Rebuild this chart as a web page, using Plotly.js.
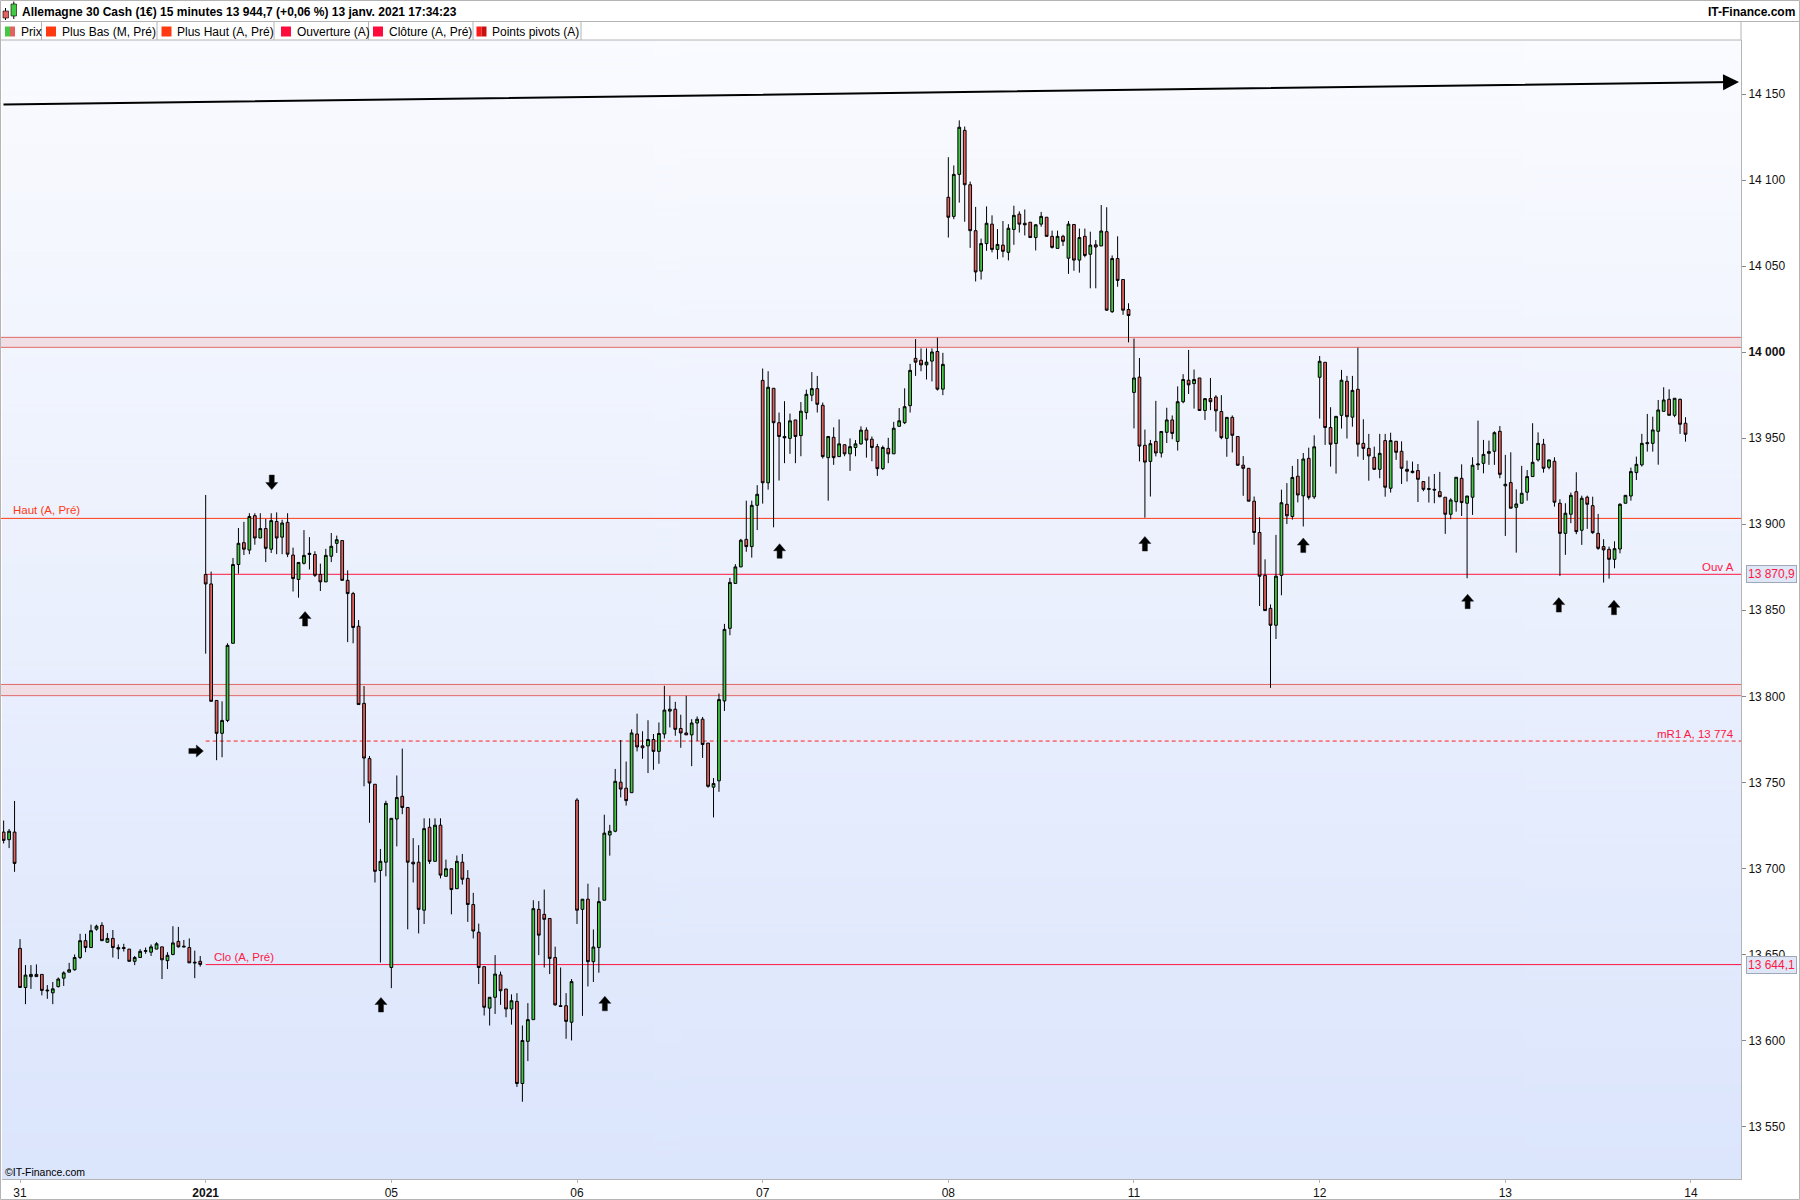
<!DOCTYPE html>
<html><head><meta charset="utf-8">
<script src="https://cdn.plot.ly/plotly-3.0.1.min.js"></script>
<style>html,body{margin:0;padding:0;background:#fff}#chart{width:1800px;height:1200px}</style>
</head><body><div id="chart"></div>
<script>
// ---------- DATA (15-minute candles: [open, high, low, close]) ----------
const dec30 = [
[13721.1,13727.8,13714.5,13716.3],[13716.7,13722.9,13711.8,13721.6],[13721.1,13739.2,13698.0,13702.9]];
const dec31 = [
[13653.5,13658.9,13630.8,13630.8],[13630.8,13643.8,13621.1,13638.0],[13637.1,13643.8,13630.0,13638.4],[13638.4,13644.2,13637.1,13637.1],
[13638.4,13638.4,13626.2,13629.1],[13629.3,13632.2,13624.2,13628.9],[13627.7,13634.0,13621.1,13630.0],[13631.3,13636.6,13630.8,13635.7],
[13636.2,13640.2,13631.7,13639.3],[13639.7,13645.1,13639.7,13641.1],[13641.1,13650.0,13640.6,13648.2],[13648.2,13662.0,13647.3,13658.0],
[13658.0,13662.0,13651.3,13654.0],[13654.0,13667.3,13654.0,13663.8],[13664.7,13667.3,13663.8,13666.4],[13666.9,13668.7,13658.0,13658.0],
[13657.1,13662.4,13656.7,13659.3],[13659.3,13664.2,13648.2,13654.0],[13654.0,13655.8,13647.3,13653.2],[13654.0,13656.2,13651.7,13653.5],
[13653.1,13653.1,13646.0,13646.0],[13646.0,13649.1,13643.8,13648.2],[13648.2,13653.1,13648.2,13651.8],[13651.8,13654.0,13650.4,13652.2],
[13651.3,13655.8,13649.1,13654.4],[13653.1,13657.1,13653.1,13656.2],[13654.4,13654.4,13635.7,13646.9],[13646.4,13651.3,13641.5,13649.5],
[13650.0,13666.4,13649.5,13656.7],[13657.6,13666.0,13654.0,13654.4],[13654.8,13658.4,13654.4,13654.4],[13654.0,13659.3,13645.1,13645.1],
[13645.5,13652.2,13636.2,13645.1],[13646.0,13649.1,13642.9,13644.2]];
const jan04 = [
[13870.8,13917.0,13824.8,13865.3],[13865.3,13872.5,13797.1,13797.1],[13797.6,13797.6,13762.9,13778.5],[13778.5,13797.1,13764.6,13786.0],
[13786.0,13830.8,13785.0,13829.6],[13830.8,13880.4,13830.8,13876.6],[13876.6,13897.8,13871.3,13888.9],[13889.3,13901.4,13882.1,13885.5],
[13885.0,13906.4,13882.6,13904.5],[13905.0,13906.4,13888.1,13892.0],[13892.0,13906.4,13892.0,13897.5],[13897.5,13903.1,13878.0,13886.0],
[13885.5,13906.4,13883.3,13902.1],[13901.6,13906.9,13882.6,13892.0],[13892.5,13902.6,13882.6,13900.7],[13901.1,13906.4,13880.9,13882.6],
[13882.1,13886.4,13860.9,13868.4],[13867.9,13877.8,13857.3,13877.8],[13877.3,13896.6,13876.6,13881.9],[13882.4,13892.5,13873.7,13883.1],
[13882.4,13884.3,13869.3,13870.3],[13870.8,13877.1,13861.2,13866.5],[13866.5,13885.7,13866.5,13881.9],[13881.4,13894.9,13878.0,13887.2],
[13888.9,13893.4,13883.3,13891.0],[13890.5,13890.5,13867.4,13867.4],[13867.4,13873.2,13831.5,13859.7],[13859.7,13860.7,13830.8,13840.0],
[13840.7,13844.3,13795.2,13795.2],[13795.9,13806.0,13747.7,13764.1],[13763.8,13765.3,13726.5,13749.6],[13748.9,13748.9,13691.8,13698.3],
[13698.8,13711.3,13645.3,13704.1],[13703.6,13739.3,13695.4,13737.8]];
const jan05 = [
[13642.4,13729.1,13630.4,13729.1],[13728.7,13754.0,13712.8,13741.2],[13741.9,13769.6,13731.5,13735.4],[13735.4,13735.4,13664.6,13703.6],
[13703.6,13717.6,13691.8,13702.6],[13703.6,13713.5,13662.2,13676.2],[13675.7,13729.1,13667.7,13723.1],[13723.9,13729.1,13702.6,13704.1],
[13704.1,13729.1,13704.1,13725.1],[13725.1,13729.1,13694.2,13696.1],[13695.4,13705.1,13695.4,13699.8],[13699.8,13699.8,13673.3,13687.7],
[13688.2,13707.5,13688.2,13704.1],[13703.6,13708.4,13690.6,13693.7],[13694.2,13699.0,13668.9,13679.0],[13679.0,13685.8,13659.3,13663.6],
[13662.9,13667.9,13632.8,13642.4],[13642.9,13642.9,13614.5,13619.3],[13618.8,13625.1,13608.7,13625.1],[13625.1,13649.6,13615.4,13638.6],
[13638.1,13640.0,13620.7,13628.9],[13629.9,13629.9,13613.5,13618.3],[13618.3,13626.8,13609.2,13623.1],[13622.7,13627.5,13573.0,13575.0],
[13575.0,13608.7,13564.4,13600.0],[13599.5,13621.7,13588.0,13612.1],[13612.1,13681.5,13612.1,13676.6],[13676.2,13681.0,13649.6,13661.2],
[13673.3,13687.7,13642.4,13670.4],[13670.9,13670.9,13638.6,13647.7],[13648.2,13654.5,13620.2,13620.7],[13620.2,13642.4,13619.8,13619.8],
[13620.2,13627.5,13601.0,13611.1],[13610.6,13635.7,13600.0,13634.2]];
const jan06 = [
[13739.7,13740.8,13667.7,13675.7],[13676.2,13682.1,13614.3,13682.1],[13682.1,13691.1,13631.4,13645.8],[13645.8,13664.5,13634.0,13654.3],
[13654.0,13689.0,13639.4,13680.7],[13681.5,13731.2,13681.5,13720.5],[13719.4,13725.3,13707.4,13721.6],[13721.6,13757.8,13721.0,13750.6],
[13750.1,13774.6,13741.3,13746.1],[13746.6,13762.1,13736.5,13739.4],[13744.0,13780.8,13744.0,13778.7],[13778.1,13789.9,13768.0,13770.6],
[13771.2,13779.7,13763.7,13770.1],[13771.2,13786.1,13755.4,13774.9],[13774.9,13778.1,13757.3,13768.0],[13768.0,13784.8,13760.8,13778.4],
[13778.1,13806.1,13775.5,13792.0],[13791.4,13800.3,13781.9,13792.5],[13792.5,13796.8,13777.1,13780.8],[13781.3,13789.3,13770.1,13778.7],
[13778.7,13800.3,13777.6,13777.6],[13777.6,13786.7,13759.4,13784.5],[13784.5,13788.3,13774.1,13786.7],[13786.7,13788.0,13764.2,13772.0],
[13772.8,13772.8,13746.9,13747.7],[13747.2,13752.5,13729.6,13749.3],[13750.9,13801.6,13744.5,13798.1],[13797.3,13842.1,13791.5,13838.9],
[13839.5,13868.8,13835.5,13866.2],[13865.6,13876.8,13865.6,13875.2],[13875.2,13891.5,13875.2,13890.7],[13891.2,13913.7,13884.0,13887.0],
[13887.0,13913.7,13880.6,13911.0],[13911.0,13922.7,13896.6,13917.4]];
const jan07 = [
[13983.6,13990.5,13912.0,13924.1],[13924.1,13988.9,13920.1,13979.6],[13979.0,13979.0,13898.2,13959.0],[13959.0,13964.9,13925.4,13951.0],
[13951.0,13971.5,13935.5,13950.2],[13949.9,13964.3,13940.9,13960.1],[13960.6,13960.6,13935.5,13951.0],[13951.5,13971.0,13939.5,13965.7],
[13964.9,13978.2,13960.9,13975.5],[13975.0,13988.4,13971.5,13978.8],[13978.8,13986.2,13964.9,13969.7],[13969.1,13970.7,13938.2,13939.3],
[13938.7,13951.0,13913.7,13951.0],[13950.5,13956.3,13934.5,13938.7],[13939.3,13960.9,13939.3,13946.7],[13946.2,13946.2,13939.5,13940.9],
[13940.9,13949.9,13931.0,13945.1],[13944.6,13948.9,13939.5,13946.7],[13946.7,13956.9,13946.2,13954.7],[13954.7,13956.3,13938.7,13948.9],
[13949.4,13951.0,13936.6,13944.6],[13945.1,13946.7,13928.1,13932.3],[13932.3,13945.7,13931.5,13944.6],[13944.1,13950.2,13935.5,13940.9],
[13940.9,13959.5,13940.9,13955.8],[13956.9,13967.5,13956.9,13960.1],[13959.0,13979.0,13958.2,13968.3],[13968.9,13993.2,13964.9,13989.4],
[13996.4,14007.6,13986.2,13994.2],[13995.3,14002.2,13988.9,13992.6],[13992.6,14002.2,13984.1,13994.2],[13994.8,14002.2,13983.0,14000.1],
[14000.4,14008.4,13977.7,13978.5],[13978.5,13999.6,13975.0,13992.9]];
const jan08 = [
[14090.0,14113.3,14066.6,14078.4],[14078.9,14108.5,14077.3,14103.3],[14103.3,14134.7,14086.9,14130.7],[14128.9,14131.1,14075.8,14097.3],
[14097.3,14099.1,14060.6,14070.6],[14070.6,14084.4,14041.1,14046.6],[14047.1,14066.0,14042.2,14063.1],[14063.1,14084.7,14058.9,14074.9],
[14074.4,14079.5,14058.0,14059.7],[14059.7,14071.5,14054.0,14062.6],[14062.2,14076.2,14055.1,14058.6],[14058.0,14074.4,14053.3,14072.0],
[14071.3,14085.1,14062.4,14079.5],[14080.2,14081.8,14069.5,14074.4],[14074.9,14082.9,14067.8,14074.0],[14075.5,14075.5,14066.6,14066.6],
[14066.6,14074.4,14059.1,14074.0],[14074.4,14081.5,14072.9,14078.9],[14078.4,14078.4,14067.3,14067.3],[14067.3,14070.6,14060.2,14060.9],
[14060.3,14070.6,14060.3,14067.3],[14067.3,14068.2,14061.7,14064.4],[14054.6,14076.2,14045.5,14074.4],[14074.2,14074.2,14047.3,14053.5],
[14053.5,14071.8,14046.2,14066.6],[14067.3,14071.8,14055.1,14056.2],[14056.9,14070.0,14037.1,14062.2],[14062.4,14065.1,14037.1,14061.1],
[14061.7,14085.5,14061.7,14070.4],[14070.0,14084.2,14024.0,14024.4],[14023.5,14056.2,14022.8,14054.4],[14054.4,14067.3,14038.0,14041.7],
[14042.2,14042.2,14021.7,14024.4],[14024.8,14028.4,14005.7,14021.3]];
const jan11 = [
[13976.6,14007.9,13955.7,13985.0],[13985.5,13996.6,13936.5,13945.4],[13945.9,13955.0,13903.8,13936.1],[13936.5,13949.0,13916.1,13946.8],
[13948.1,13971.7,13939.4,13941.4],[13941.4,13953.9,13938.8,13953.9],[13953.4,13967.7,13947.2,13960.6],[13960.6,13963.2,13949.4,13952.8],
[13948.1,13980.1,13942.8,13971.2],[13971.2,13987.2,13970.3,13984.1],[13983.7,14001.3,13975.7,13981.0],[13981.7,13989.9,13967.2,13984.1],
[13985.0,13985.0,13966.1,13966.1],[13966.1,13973.0,13960.6,13973.0],[13973.0,13985.0,13966.3,13971.2],[13973.9,13975.0,13953.9,13965.9],
[13965.5,13975.0,13949.4,13950.3],[13949.9,13962.1,13939.2,13962.1],[13962.1,13963.2,13941.7,13951.7],[13951.0,13951.0,13933.9,13934.3],
[13934.3,13939.6,13916.5,13932.5],[13932.5,13932.5,13913.4,13913.4],[13913.4,13916.1,13888.1,13895.2],[13895.2,13904.1,13852.5,13869.8],
[13870.3,13879.6,13849.8,13849.8],[13851.1,13853.4,13804.9,13841.3],[13841.3,13893.8,13833.3,13869.8],[13870.3,13920.1,13858.7,13912.5],
[13911.6,13923.9,13900.1,13904.9],[13904.5,13933.9,13902.7,13927.2],[13927.9,13937.9,13912.7,13917.0],[13916.5,13941.4,13898.7,13937.9],
[13938.3,13944.5,13914.3,13915.6],[13915.9,13951.7,13914.7,13945.0]];
const jan12 = [
[13985.4,13997.8,13961.4,13994.7],[13994.1,13994.1,13946.1,13956.2],[13956.2,13968.0,13933.5,13946.5],[13946.9,13962.7,13929.4,13962.7],
[13963.3,13989.7,13955.6,13983.7],[13983.1,13986.2,13949.8,13962.5],[13962.2,13986.2,13956.7,13977.8],[13978.4,14002.6,13939.3,13946.5],
[13947.0,13961.0,13937.4,13944.1],[13944.1,13952.5,13925.3,13939.7],[13938.9,13945.1,13931.5,13931.9],[13931.9,13952.5,13926.7,13941.2],
[13948.6,13952.5,13916.0,13921.5],[13920.9,13953.2,13918.4,13948.6],[13948.2,13948.2,13937.4,13941.8],[13942.4,13948.2,13923.4,13932.5],
[13931.9,13937.0,13924.8,13930.8],[13930.0,13936.4,13929.6,13930.8],[13931.2,13935.0,13912.9,13926.1],[13924.8,13924.8,13919.2,13920.3],
[13920.7,13927.7,13912.6,13920.3],[13920.3,13929.2,13912.2,13919.9],[13918.9,13930.4,13915.7,13916.0],[13915.7,13915.7,13894.4,13905.8],
[13905.8,13915.1,13902.9,13914.1],[13913.1,13927.3,13907.3,13927.3],[13926.7,13934.8,13904.8,13912.6],[13912.2,13916.4,13868.6,13916.4],
[13915.7,13938.9,13905.4,13934.3],[13934.5,13960.2,13931.5,13935.0],[13935.4,13949.0,13929.6,13940.6],[13941.2,13948.6,13934.5,13942.2],
[13942.4,13954.0,13934.5,13953.2],[13954.0,13957.1,13926.7,13929.0]];
const jan13 = [
[13922.3,13940.3,13893.2,13923.2],[13924.2,13941.8,13909.3,13909.3],[13909.8,13920.3,13883.5,13911.8],[13912.2,13933.9,13912.2,13918.0],
[13918.6,13931.5,13913.7,13927.7],[13927.7,13958.7,13927.7,13936.0],[13937.4,13953.4,13936.4,13947.0],[13946.5,13949.6,13930.0,13932.5],
[13933.1,13937.4,13931.9,13937.4],[13936.6,13938.9,13910.2,13912.8],[13912.2,13914.5,13870.0,13894.7],[13894.7,13912.2,13882.2,13906.4],
[13905.8,13918.4,13900.6,13916.8],[13918.9,13930.2,13894.2,13895.7],[13896.5,13916.6,13888.0,13915.1],[13915.7,13916.6,13897.3,13911.6],
[13910.8,13916.0,13894.4,13895.1],[13894.7,13906.0,13885.1,13886.0],[13887.0,13891.3,13866.1,13885.1],[13885.4,13887.0,13868.4,13879.6],
[13879.6,13890.1,13874.4,13885.8],[13885.6,13912.2,13883.1,13911.6],[13912.2,13916.8,13912.2,13916.8],[13916.4,13932.9,13913.7,13930.6],
[13930.0,13939.3,13925.7,13934.8],[13934.5,13952.5,13933.5,13947.0],[13946.8,13964.1,13942.2,13947.4],[13947.0,13962.5,13942.2,13954.8],
[13954.0,13972.2,13934.6,13966.4],[13965.6,13979.6,13965.6,13972.2],[13972.6,13978.4,13963.3,13963.3],[13963.3,13973.2,13962.2,13973.2],
[13972.6,13973.0,13952.5,13958.1],[13958.7,13962.2,13948.0,13952.3]];

const dayLabels = ['31', '2021', '05', '06', '07', '08', '11', '12', '13', '14'];
const priceTicks = [13550, 13600, 13650, 13700, 13750, 13800, 13850, 13900, 13950, 14000, 14050, 14100, 14150];

// reference levels
const hautAPre = 13903.4;   // Haut (A, Pré)
const ouvA = 13870.9;       // Ouv A
const cloAPre = 13644.1;    // Clo (A, Pré)
const mR1A = 13774;         // mR1 A
const zoneUpper = [14002.8, 14008.6];
const zoneLower = [13800.4, 13806.9];

// trend line (candle index, price)
const trendX = [-3.3, 314.8];
const trendY = [14143.9, 14157.0];

// signal arrows (candle index, price, direction)
const sigX = [46.1, 52.2, 32.2, 66.1, 107.1, 139.1, 206.0, 235.0, 265.1, 281.8, 291.9];
const sigY = [13924.5, 13844.9, 13768.2, 13620.6, 13621.3, 13884.3, 13888.5, 13887.6, 13855.0, 13853.0, 13851.5];
const sigDir = ['down', 'up', 'right', 'up', 'up', 'up', 'up', 'up', 'up', 'up', 'up'];

// ---------- BUILD ----------
const days = [dec30, dec31, jan04, jan05, jan06, jan07, jan08, jan11, jan12, jan13];
const candles = [].concat(...days);
const perDay = 34;
const xs = candles.map((_, i) => i - dec30.length);
const xMin = -3.3, xMax = 315.16;
const yMin = 13519.5, yMax = 14181.4;

const trace = {
  type: 'candlestick',
  x: xs,
  open: candles.map(c => c[0]), high: candles.map(c => c[1]),
  low: candles.map(c => c[2]), close: candles.map(c => c[3]),
  increasing: {fillcolor: '#43c943', line: {color: '#000000', width: 1}},
  decreasing: {fillcolor: '#e3625f', line: {color: '#000000', width: 1}},
  whiskerwidth: 0,
  hoverinfo: 'skip'
};

// pixel helpers for page furniture
const L = 2, T = 40, PW = 1739, PH = 1139;
const px = x => (x - L) / PW;
const py = y => 1 - (y - T) / PH;
const fmt = v => { const s = String(v); return s.slice(0, s.length - 3) + ' ' + s.slice(-3); };

const shapes = [];
const ann = [];
const gray = '#b4b4b4';
function pline(x0, y0, x1, y1, color, w) {
  shapes.push({type: 'line', xref: 'paper', yref: 'paper', x0: px(x0), y0: py(y0), x1: px(x1), y1: py(y1), line: {color: color || gray, width: w || 1}, layer: 'above'});
}
// zones (fill + top/bottom borders only)
[zoneUpper, zoneLower].forEach(z => {
  shapes.push({type: 'rect', xref: 'paper', yref: 'y', x0: px(0), x1: 1, y0: z[0], y1: z[1], fillcolor: '#f1dde4', line: {width: 0}, layer: 'below'});
  z.forEach(v => shapes.push({type: 'line', xref: 'paper', yref: 'y', x0: px(0), x1: 1, y0: v, y1: v, line: {color: '#e06a6a', width: 1}, layer: 'below'}));
});
// level lines
shapes.push({type: 'line', xref: 'paper', yref: 'y', x0: px(0), x1: 1, y0: hautAPre, y1: hautAPre, line: {color: '#ff3a12', width: 1}, layer: 'below'});
shapes.push({type: 'line', xref: 'x', yref: 'y', x0: perDay, x1: xMax, y0: ouvA, y1: ouvA, line: {color: '#ff1744', width: 1}, layer: 'below'});
shapes.push({type: 'line', xref: 'x', yref: 'y', x0: perDay, x1: xMax, y0: cloAPre, y1: cloAPre, line: {color: '#ff1744', width: 1}, layer: 'below'});
shapes.push({type: 'line', xref: 'x', yref: 'y', x0: perDay, x1: xMax, y0: mR1A, y1: mR1A, line: {color: '#ff2020', width: 1, dash: '4px,3px'}, layer: 'below'});

// arrows
const arrowPaths = {
  up: 'M-6,0.5 L0,7.5 L6,0.5 L2.5,0.5 L2.5,-7 L-2.5,-7 L-2.5,0.5 Z',
  down: 'M-6,-0.5 L0,-7.5 L6,-0.5 L2.5,-0.5 L2.5,7 L-2.5,7 L-2.5,-0.5 Z',
  right: 'M0.5,-6 L7.5,0 L0.5,6 L0.5,2.5 L-7,2.5 L-7,-2.5 L0.5,-2.5 Z'
};
sigX.forEach((x, i) => shapes.push({type: 'path', xref: 'x', yref: 'y', xsizemode: 'pixel', ysizemode: 'pixel', xanchor: x, yanchor: sigY[i], path: arrowPaths[sigDir[i]], fillcolor: '#000000', line: {color: '#222222', width: 0.5}, layer: 'above'}));

// frame lines
pline(0.5, 0.5, 1799.5, 0.5); pline(0.5, 0.5, 0.5, 1199.5); pline(1799.5, 0.5, 1799.5, 1199.5); pline(0.5, 1199.5, 1799.5, 1199.5);
pline(0, 21.5, 1800, 21.5);
pline(0, 40, 1741, 40);
pline(1741, 21.5, 1741, 40);
[41.5, 157, 274, 368.5, 473, 581].forEach(x => pline(x, 21.5, x, 40));

// header icon
shapes.push({type: 'line', xref: 'paper', yref: 'paper', x0: px(5.5), x1: px(5.5), y0: py(8), y1: py(20), line: {color: '#000', width: 1}, layer: 'above'});
shapes.push({type: 'rect', xref: 'paper', yref: 'paper', x0: px(3), x1: px(8.5), y0: py(11), y1: py(18), fillcolor: '#e3625f', line: {color: '#000', width: 0.6}, layer: 'above'});
shapes.push({type: 'line', xref: 'paper', yref: 'paper', x0: px(13.8), x1: px(13.8), y0: py(1.5), y1: py(19), line: {color: '#000', width: 1}, layer: 'above'});
shapes.push({type: 'rect', xref: 'paper', yref: 'paper', x0: px(11), x1: px(16.5), y0: py(4), y1: py(16), fillcolor: '#43c943', line: {color: '#000', width: 0.6}, layer: 'above'});

// legend row
const legendItems = [
  {x: 5, text: 'Prix', c1: '#43c943', c2: '#e3625f'},
  {x: 46, text: 'Plus Bas (M, Pré)', c1: '#ff3a12'},
  {x: 161.5, text: 'Plus Haut (A, Pré)', c1: '#ff3a12'},
  {x: 281, text: 'Ouverture (A)', c1: '#ff0a3c'},
  {x: 373, text: 'Clôture (A, Pré)', c1: '#ff0a3c'},
  {x: 476.5, text: 'Points pivots (A)', c1: '#ff1a1a', c2: '#c81010'}
];
legendItems.forEach(it => {
  if (it.c2) {
    shapes.push({type: 'rect', xref: 'paper', yref: 'paper', x0: px(it.x), x1: px(it.x + 5), y0: py(26.5), y1: py(36.5), fillcolor: it.c1, line: {width: 0}, layer: 'above'});
    shapes.push({type: 'rect', xref: 'paper', yref: 'paper', x0: px(it.x + 5), x1: px(it.x + 10), y0: py(26.5), y1: py(36.5), fillcolor: it.c2, line: {width: 0}, layer: 'above'});
  } else {
    shapes.push({type: 'rect', xref: 'paper', yref: 'paper', x0: px(it.x), x1: px(it.x + 10), y0: py(26.5), y1: py(36.5), fillcolor: it.c1, line: {width: 0}, layer: 'above'});
  }
  ann.push({xref: 'paper', yref: 'paper', x: px(it.x + 13.5), y: py(31.5), xanchor: 'left', yanchor: 'middle', text: it.text, showarrow: false, font: {family: 'Liberation Sans, Arial, sans-serif', size: 12, color: '#000'}});
});

// title & brand
ann.push({xref: 'paper', yref: 'paper', x: px(20), y: py(11.5), xanchor: 'left', yanchor: 'middle', showarrow: false,
  text: '<b>Allemagne 30 Cash (1€) 15 minutes 13 944,7 (+0,06 %) 13 janv. 2021 17:34:23</b>',
  font: {family: 'Liberation Sans, Arial, sans-serif', size: 12, color: '#000'}});
ann.push({xref: 'paper', yref: 'paper', x: px(1797), y: py(11.5), xanchor: 'right', yanchor: 'middle', showarrow: false,
  text: '<b>IT-Finance.com</b>', font: {family: 'Liberation Sans, Arial, sans-serif', size: 12, color: '#000'}});
ann.push({xref: 'paper', yref: 'paper', x: px(3), y: py(1172), xanchor: 'left', yanchor: 'middle', showarrow: false,
  text: '©IT-Finance.com', font: {family: 'Liberation Sans Narrow, Arial Narrow, Liberation Sans, sans-serif', size: 10.5, color: '#000'}});

// level labels
const lblFont = c => ({family: 'Liberation Sans, Arial, sans-serif', size: 11.5, color: c});
ann.push({xref: 'paper', yref: 'y', x: px(11), y: hautAPre, yshift: 8, xanchor: 'left', yanchor: 'middle', showarrow: false, text: 'Haut (A, Pré)', font: lblFont('#ff3a12')});
ann.push({xref: 'paper', yref: 'y', x: px(212), y: cloAPre, yshift: 8, xanchor: 'left', yanchor: 'middle', showarrow: false, text: 'Clo (A, Pré)', font: lblFont('#ff1744')});
ann.push({xref: 'paper', yref: 'y', x: px(1736), y: ouvA, yshift: 7.5, xanchor: 'right', yanchor: 'middle', showarrow: false, text: 'Ouv A', font: lblFont('#ff1744')});
ann.push({xref: 'paper', yref: 'y', x: px(1736), y: mR1A, yshift: 7.5, xanchor: 'right', yanchor: 'middle', showarrow: false, text: 'mR1 A, ' + fmt(mR1A), font: lblFont('#ff1744')});

// price badges
[ouvA, cloAPre].forEach(v => {
  const s = v.toFixed(1).replace('.', ',');
  const t = s.slice(0, 2) + ' ' + s.slice(2);
  ann.push({xref: 'paper', yref: 'y', x: px(1746), y: v, xanchor: 'left', yanchor: 'middle', showarrow: false,
    text: t, font: {family: 'Liberation Sans, Arial, sans-serif', size: 12, color: '#ff1744'},
    bgcolor: '#dfe6f6', bordercolor: '#9ea8ba', borderwidth: 1, borderpad: 1});
});

// trend line with arrow head
ann.push({x: trendX[1], y: trendY[1], ax: trendX[0], ay: trendY[0], xref: 'x', yref: 'y', axref: 'x', ayref: 'y',
  showarrow: true, arrowhead: 2, arrowsize: 1.6, arrowwidth: 2, arrowcolor: '#000', text: '', standoff: 0});

// background gradient image
const cv = document.createElement('canvas'); cv.width = 4; cv.height = 600;
const g = cv.getContext('2d'); const grd = g.createLinearGradient(0, 0, 0, 600);
grd.addColorStop(0, '#fafbff'); grd.addColorStop(1, '#dbe5fc');
g.fillStyle = grd; g.fillRect(0, 0, 4, 600);

const layout = {
  width: 1800, height: 1200,
  margin: {l: L, r: 1800 - L - PW, t: T, b: 1200 - T - PH, pad: 0},
  paper_bgcolor: '#ffffff', plot_bgcolor: 'rgba(0,0,0,0)',
  showlegend: false, boxgap: 0.28,
  font: {family: 'Liberation Sans, Arial, sans-serif'},
  xaxis: {range: [xMin, xMax], type: 'linear', rangeslider: {visible: false},
    tickvals: dayLabels.map((_, i) => i * perDay),
    ticktext: dayLabels.map(d => d === '2021' ? '<b>' + d + '</b>' : d),
    tickfont: {family: 'Liberation Sans Narrow, Arial Narrow, Liberation Sans, sans-serif', size: 12, color: '#111'},
    showgrid: false, zeroline: false, showline: true, linecolor: gray, linewidth: 1,
    ticks: 'outside', ticklen: 3, tickcolor: gray, fixedrange: true},
  yaxis: {range: [yMin, yMax], side: 'right',
    tickvals: priceTicks, ticktext: priceTicks.map(v => v === 14000 ? '<b>' + fmt(v) + '</b>' : fmt(v)),
    tickfont: {family: 'Liberation Sans, Arial, sans-serif', size: 12, color: '#111'},
    showgrid: false, zeroline: false, showline: true, linecolor: gray, linewidth: 1,
    ticks: 'outside', ticklen: 4, tickcolor: '#888', fixedrange: true},
  images: [{source: cv.toDataURL(), xref: 'paper', yref: 'paper', x: 0, y: 1, sizex: 1, sizey: 1, sizing: 'stretch', xanchor: 'left', yanchor: 'top', layer: 'below'}],
  shapes: shapes,
  annotations: ann
};

Plotly.newPlot('chart', [trace], layout, {staticPlot: true, displayModeBar: false});
</script>
</body></html>
